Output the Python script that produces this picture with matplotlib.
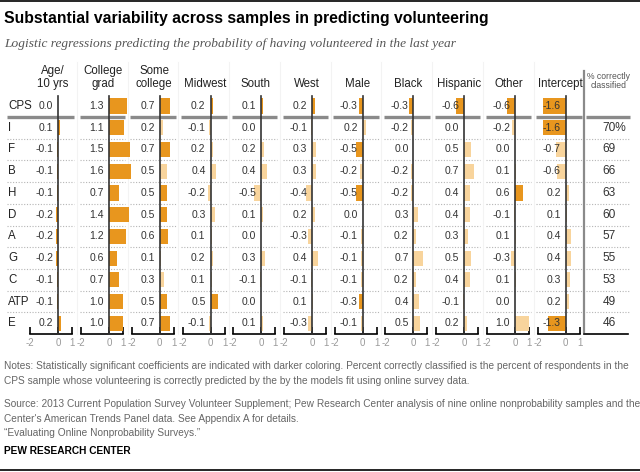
import matplotlib
matplotlib.use('Agg')
import matplotlib.pyplot as plt
from matplotlib.lines import Line2D

plt.rcParams['font.family'] = ['Liberation Sans', 'DejaVu Sans']

samples = ['CPS', 'I', 'F', 'B', 'H', 'D', 'A', 'G', 'C', 'ATP', 'E']
headers = ['Age/\n10 yrs', 'College\ngrad', 'Some\ncollege', 'Midwest', 'South', 'West',
           'Male', 'Black', 'Hispanic', 'Other', 'Intercept']

# coefficients, one list per predictor (rows follow `samples`)
age          = [0.0, 0.1, -0.1, -0.1, -0.1, -0.2, -0.2, -0.2, -0.1, -0.1, 0.2]
college_grad = [1.3, 1.1, 1.5, 1.6, 0.7, 1.4, 1.2, 0.6, 0.7, 1.0, 1.0]
some_college = [0.7, 0.2, 0.7, 0.5, 0.5, 0.5, 0.6, 0.1, 0.3, 0.5, 0.7]
midwest      = [0.2, -0.1, 0.2, 0.4, -0.2, 0.3, 0.1, 0.2, 0.1, 0.5, -0.1]
south        = [0.1, 0.0, 0.2, 0.4, -0.5, 0.1, 0.0, 0.3, -0.1, 0.0, 0.1]
west         = [0.2, -0.1, 0.3, 0.3, -0.4, 0.2, -0.3, 0.4, -0.1, 0.1, -0.3]
male         = [-0.3, 0.2, -0.5, -0.2, -0.5, 0.0, -0.1, -0.1, -0.1, -0.3, -0.1]
black        = [-0.3, -0.2, 0.0, -0.2, -0.2, 0.3, 0.2, 0.7, 0.2, 0.4, 0.5]
hispanic     = [-0.6, 0.0, 0.5, 0.7, 0.4, 0.4, 0.3, 0.5, 0.4, -0.1, 0.2]
other        = [-0.6, -0.2, 0.0, 0.1, 0.6, -0.1, 0.1, -0.3, 0.1, 0.0, 1.0]
intercept    = [-1.6, -1.6, -0.7, -0.6, 0.2, 0.1, 0.4, 0.4, 0.3, 0.2, -1.3]

# 1 = statistically significant (darker bar)
sig_age          = [1, 1, 1, 1, 1, 1, 1, 1, 1, 1, 1]
sig_college_grad = [1, 1, 1, 1, 1, 1, 1, 1, 1, 1, 1]
sig_some_college = [1, 0, 1, 0, 1, 1, 1, 0, 0, 1, 1]
sig_midwest      = [1, 0, 0, 0, 0, 0, 0, 0, 0, 1, 0]
sig_south        = [1, 0, 0, 0, 0, 0, 0, 0, 0, 0, 0]
sig_west         = [1, 0, 0, 0, 0, 0, 0, 0, 0, 0, 0]
sig_male         = [1, 0, 1, 0, 1, 0, 0, 0, 0, 1, 0]
sig_black        = [1, 0, 0, 0, 0, 0, 0, 0, 0, 0, 0]
sig_hispanic     = [1, 0, 0, 0, 0, 0, 0, 0, 0, 0, 0]
sig_other        = [1, 0, 0, 0, 1, 0, 0, 0, 0, 0, 0]
sig_intercept    = [1, 1, 0, 0, 0, 0, 0, 0, 0, 0, 1]

pct_correct = [None, 70, 69, 66, 63, 60, 57, 55, 53, 49, 46]

coefs = [age, college_grad, some_college, midwest, south, west, male, black, hispanic, other, intercept]
sigs = [sig_age, sig_college_grad, sig_some_college, sig_midwest, sig_south, sig_west,
        sig_male, sig_black, sig_hispanic, sig_other, sig_intercept]

DARK = '#e8961e'
LIGHT = '#f8d49c'
W, H = 640, 472

fig = plt.figure(figsize=(W / 100, H / 100), dpi=100)


def px_axes(left, top, width, height):
    return fig.add_axes([left / W, 1 - (top + height) / H, width / W, height / H])


row_top = 95.1
row_h = 239.1
n = len(samples)
rows = list(range(n))

for i, (vals, sg) in enumerate(zip(coefs, sigs)):
    zero = 58.3 + 50.74 * i
    ax = px_axes(zero - 28, row_top, 42, row_h)
    ax.set_xlim(-2, 1)
    ax.set_ylim(n - 0.5, -0.5)
    ax.patch.set_alpha(0)
    for s in ['top', 'right', 'left']:
        ax.spines[s].set_visible(False)
    ax.spines['bottom'].set_color('black')
    ax.spines['bottom'].set_linewidth(1.2)
    ax.set_yticks([])
    ax.set_xticks([-2, 0, 1])
    ax.set_xticklabels(['-2', '0', '1'])
    ax.tick_params(axis='x', direction='in', length=5, width=1.2, pad=3,
                   labelsize=7, labelcolor='#9a9a9a', color='black')

    x0 = -3.66 if i == 0 else -2.1
    # faint column separator
    if i < 10:
        ax.plot([1.33, 1.33], [n - 0.5, -2.0], color='#f3f3f3', lw=0.8, clip_on=False, zorder=0)
    ax.hlines([r + 0.5 for r in rows[1:-1]], x0, 1.15, colors='#b5b5b5', lw=0.8,
              linestyles=(0, (1, 1.5)), clip_on=False, zorder=1)
    ax.hlines(0.5, x0, 1.15, colors='#8a8a8a', lw=2.4, clip_on=False, zorder=1)

    colors = [DARK if s else LIGHT for s in sg]
    ax.barh(rows, vals, height=0.7, color=colors, clip_on=False, zorder=2)
    ax.plot([0, 0], [n - 0.5, -0.45], color='#333333', lw=1.2, clip_on=False, zorder=3)

    for r, v in zip(rows, vals):
        ax.text(-0.35, r, f'{v:.1f}', ha='right', va='center', fontsize=7.5,
                color='#333333', clip_on=False, zorder=4)

    ax.text(-0.4, -0.72, headers[i], ha='center', va='bottom', fontsize=8.3,
            color='#222222', linespacing=1.15, clip_on=False)

    if i == 0:
        for r, name in zip(rows, samples):
            ax.text(-3.6, r, name, ha='left', va='center', fontsize=8.3,
                    color='#222222', clip_on=False)

# percent correctly classified column
axp = px_axes(584, row_top, 44, row_h)
axp.set_xlim(0, 1)
axp.set_ylim(n - 0.5, -0.5)
axp.patch.set_alpha(0)
for s in ['top', 'right', 'left']:
    axp.spines[s].set_visible(False)
axp.spines['bottom'].set_linewidth(1.2)
axp.set_xticks([])
axp.set_yticks([])
axp.plot([0, 0], [n - 0.6, -1.6], color='#8a8a8a', lw=1.6, clip_on=False)
axp.hlines([r + 0.5 for r in rows[1:-1]], 0.05, 1.05, colors='#b5b5b5', lw=0.8,
           linestyles=(0, (1, 1.5)), clip_on=False)
axp.hlines(0.5, 0.05, 1.05, colors='#8a8a8a', lw=2.4, clip_on=False)
axp.text(0.55, -0.72, '% correctly\nclassified', ha='center', va='bottom', fontsize=6.2,
         color='#555555', linespacing=1.1, clip_on=False)
for r, v in zip(rows, pct_correct):
    if v is None:
        continue
    label = f'{v}%' if r == 1 else f'{v}'
    axp.text(0.42, r, label, ha='left', va='center', fontsize=8.6, color='#333333')

# titles and notes
fig.text(4 / W, 1 - 18 / H, 'Substantial variability across samples in predicting volunteering',
         ha='left', va='center', fontsize=11.3, fontweight='bold', color='black')
fig.text(4 / W, 1 - 44 / H,
         'Logistic regressions predicting the probability of having volunteered in the last year',
         ha='left', va='center', fontsize=9.6, style='italic', color='#555555',
         family=['Liberation Serif', 'DejaVu Serif'])

note_kw = dict(ha='left', va='center', fontsize=7.3, color='#666666')
fig.text(4 / W, 1 - 366 / H, 'Notes: Statistically significant coefficients are indicated with darker coloring. '
         'Percent correctly classified is the percent of respondents in the', **note_kw)
fig.text(4 / W, 1 - 381 / H, 'CPS sample whose volunteering is correctly predicted by the by the models '
         'fit using online survey data.', **note_kw)
fig.text(4 / W, 1 - 404 / H, 'Source: 2013 Current Population Survey Volunteer Supplement; Pew Research '
         'Center analysis of nine online nonprobability samples and the', **note_kw)
fig.text(4 / W, 1 - 419 / H, "Center's American Trends Panel data. See Appendix A for details.", **note_kw)
fig.text(4 / W, 1 - 433 / H, '\u201cEvaluating Online Nonprobability Surveys.\u201d', **note_kw)
fig.text(4 / W, 1 - 451 / H, 'PEW RESEARCH CENTER', ha='left', va='center', fontsize=7.3,
         fontweight='bold', color='black')

fig.add_artist(Line2D([0, 1], [1 - 1 / H, 1 - 1 / H], color='black', lw=1.2))
fig.add_artist(Line2D([0, 1], [1 - 470 / H, 1 - 470 / H], color='black', lw=1.2))

fig.savefig('out.png', dpi=100)
